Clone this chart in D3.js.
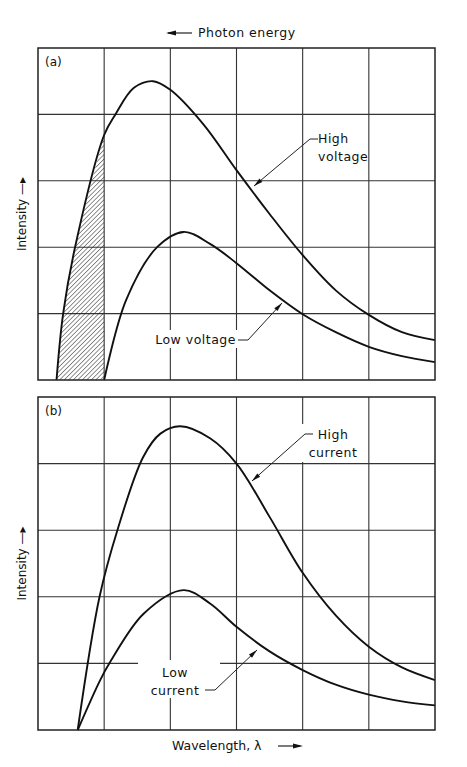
<!DOCTYPE html>
<html>
<head>
<meta charset="utf-8">
<script src="https://cdn.jsdelivr.net/npm/d3@7"></script>
<style>
  body { margin: 0; background: #fff; }
  text { font-family: "DejaVu Sans", sans-serif; fill: #111; }
</style>
</head>
<body>
<svg id="chart" width="467" height="767"></svg>
<script>
// grid cells: 6 columns x 5 rows in both panels
var xTicks = [1, 2, 3, 4, 5];
var yTicks = [1, 2, 3, 4];

// panel (a)
var highVoltage = [[0.28,0],[0.38,1],[0.56,2],[1,3.69],[1.17,4],[1.45,4.4],[1.74,4.5],[2,4.37],[2.5,3.85],[3,3.16],[3.5,2.5],[4,1.88],[4.5,1.35],[5,0.98],[5.5,0.72],[6,0.6]];
var lowVoltage = [[1,0],[1.33,1.2],[1.8,2.0],[2.2,2.23],[2.6,2.05],[3,1.76],[3.5,1.35],[4,0.99],[4.5,0.72],[5,0.5],[5.5,0.36],[6,0.27]];
var shadeTo = 1;

// panel (b)
var highCurrent = [[0.6,0],[0.93,2.0],[1.2,3.0],[1.59,4.1],[1.85,4.45],[2.15,4.56],[2.6,4.38],[3,4.0],[3.5,3.2],[4,2.36],[4.5,1.72],[5,1.25],[5.5,0.94],[6,0.75]];
var lowCurrent = [[0.6,0],[0.94,0.75],[1.09,1.02],[1.6,1.75],[2.2,2.1],[2.6,1.9],[3,1.55],[3.5,1.18],[4,0.9],[4.5,0.68],[5,0.53],[5.5,0.43],[6,0.37]];

var svg = d3.select('#chart');
var defs = svg.append('defs');
var pat = defs.append('pattern').attr('id','hatch').attr('patternUnits','userSpaceOnUse')
    .attr('width',3.2).attr('height',3.2).attr('patternTransform','rotate(45)');
pat.append('line').attr('x1',0).attr('y1',0).attr('x2',0).attr('y2',3.2)
    .attr('stroke','#222').attr('stroke-width',1);

var x = d3.scaleLinear().domain([0,6]).range([38,435]);
var curveType = d3.curveCatmullRom.alpha(0.5);

var drawPanel = function(top, bottom, tag, curves, labels) {
    var y = d3.scaleLinear().domain([0,5]).range([bottom, top]);
    var g = svg.append('g');
    var line = d3.line().x(function(d){return x(d[0]);}).y(function(d){return y(d[1]);}).curve(curveType);

    g.selectAll('.vg').data(xTicks).enter().append('line')
        .attr('x1',function(d){return x(d);}).attr('x2',function(d){return x(d);})
        .attr('y1',top).attr('y2',bottom).attr('stroke','#333').attr('stroke-width',1.1);
    g.selectAll('.hg').data(yTicks).enter().append('line')
        .attr('x1',38).attr('x2',435)
        .attr('y1',function(d){return y(d);}).attr('y2',function(d){return y(d);})
        .attr('stroke','#333').attr('stroke-width',1.1);

    if (tag === '(a)') {
        var clipped = highVoltage.filter(function(d){return d[0] <= shadeTo;});
        var area = d3.area().x(function(d){return x(d[0]);}).y0(y(0)).y1(function(d){return y(d[1]);}).curve(curveType);
        g.append('path').attr('d', area(clipped)).attr('fill','url(#hatch)').attr('stroke','none');
    }

    // label backgrounds break the grid
    labels.forEach(function(l) {
        g.append('rect').attr('x',l.bx).attr('y',l.by).attr('width',l.bw).attr('height',l.bh).attr('fill','#fff');
    });

    curves.forEach(function(c) {
        g.append('path').attr('d', line(c)).attr('fill','none').attr('stroke','#111').attr('stroke-width',1.9);
    });

    g.append('rect').attr('x',38).attr('y',top).attr('width',397).attr('height',bottom-top)
        .attr('fill','none').attr('stroke','#222').attr('stroke-width',1.5);

    g.append('text').attr('x',45).attr('y',top+18).attr('font-size',12).text(tag);

    labels.forEach(function(l) {
        l.lines.forEach(function(t, i) {
            g.append('text').attr('x',l.tx).attr('y',l.ty + i*18).attr('font-size',12.5)
                .attr('text-anchor',l.anchor).attr('letter-spacing',0.5).text(t);
        });
        g.append('path').attr('d', d3.line()(l.leader)).attr('fill','none').attr('stroke','#222').attr('stroke-width',1);
        var p = l.leader[l.leader.length-1], q = l.leader[l.leader.length-2];
        var a = Math.atan2(p[1]-q[1], p[0]-q[0]) * 180 / Math.PI;
        g.append('path').attr('d','M0,0L-9,-2.2L-9,2.2Z').attr('fill','#111')
            .attr('transform','translate(' + p[0] + ',' + p[1] + ') rotate(' + a + ')');
    });

    g.append('text').attr('transform','translate(26,' + ((top+bottom)/2) + ') rotate(-90)')
        .attr('text-anchor','middle').attr('font-size',12).text('Intensity \u2014\u25B8');
};

drawPanel(48, 380, '(a)', [highVoltage, lowVoltage], [
    {lines:['High','voltage'], tx:318, ty:143, anchor:'start', bx:312, by:128, bw:52, bh:36,
     leader:[[318,139],[310,139],[254,186]]},
    {lines:['Low voltage'], tx:236, ty:344, anchor:'end', bx:138, by:330, bw:104, bh:18,
     leader:[[238,340],[248,340],[282,303]]}
]);
drawPanel(397, 730, '(b)', [highCurrent, lowCurrent], [
    {lines:['High','current'], tx:333, ty:439, anchor:'middle', bx:292, by:424, bw:72, bh:38,
     leader:[[313,434],[305,434],[252,481]]},
    {lines:['Low','current'], tx:175, ty:677, anchor:'middle', bx:138, by:660, bw:82, bh:38,
     leader:[[205,690],[215,690],[257,650]]}
]);

svg.append('text').attr('x',198).attr('y',37).attr('font-size',12.5).attr('letter-spacing',0.5).text('Photon energy');
svg.append('path').attr('d','M168,33L192,33').attr('stroke','#222').attr('stroke-width',1.2);
svg.append('path').attr('d','M166,33L176,30.5L176,35.5Z').attr('fill','#111');
svg.append('text').attr('x',172).attr('y',750).attr('font-size',12.5).text('Wavelength, \u03BB');
svg.append('path').attr('d','M278,746L300,746').attr('stroke','#222').attr('stroke-width',1.2);
svg.append('path').attr('d','M303,746L293,743.5L293,748.5Z').attr('fill','#111');
</script>
</body>
</html>
